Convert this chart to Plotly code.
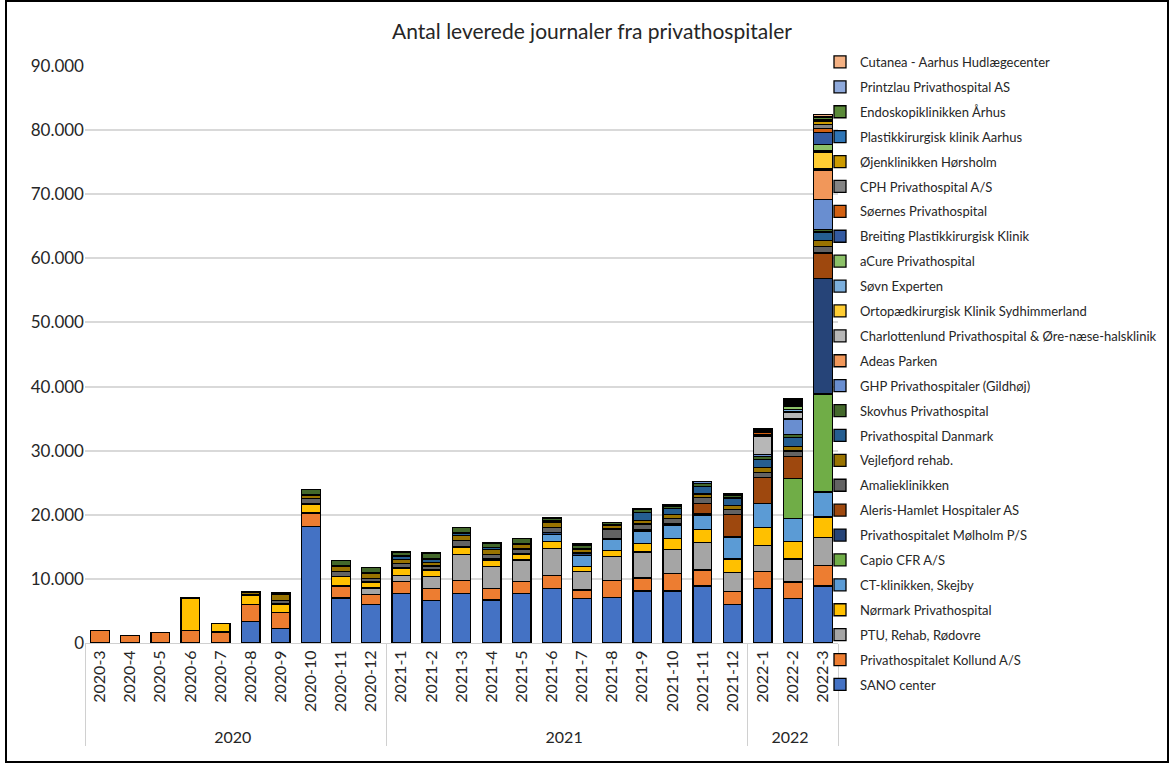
import plotly.graph_objects as go

years = ["2020"] * 10 + ["2021"] * 12 + ["2022"] * 3
months = ["2020-3", "2020-4", "2020-5", "2020-6", "2020-7", "2020-8", "2020-9", "2020-10", "2020-11", "2020-12",
          "2021-1", "2021-2", "2021-3", "2021-4", "2021-5", "2021-6", "2021-7", "2021-8", "2021-9", "2021-10",
          "2021-11", "2021-12", "2022-1", "2022-2", "2022-3"]

#                2020: 3    4     5     6     7     8     9     10     11    12   | 2021: 1   2     3     4     5     6     7     8     9     10    11    12  | 2022: 1  2     3
sano          = [0,    0,    0,    0,    0,    3300, 2300, 18200, 7000, 6000, 7700, 6600, 7700, 6700, 7700, 8500, 6900, 7150, 8100, 8100, 8900, 6000, 8500, 6950, 8900]
kollund       = [2000, 1200, 1600, 2000, 1700, 2700, 2500, 2100,  1900, 1550, 1900, 1900, 2100, 1800, 1850, 2050, 1350, 2550, 2050, 2750, 2500, 2050, 2700, 2550, 3150]
ptu           = [0,    0,    0,    0,    0,    0,    0,    0,     100,  1050, 950,  1850, 4000, 3400, 3400, 4150, 2850, 3750, 4050, 3750, 4250, 2900, 4000, 3600, 4400]
normark       = [0,    0,    0,    5000, 1300, 1400, 1300, 1400,  1400, 800,  1050, 950,  1050, 1050, 850,  1100, 800,  1000, 1350, 1650, 2000, 2150, 2800, 2700, 3200]
ct_skejby     = [0,    0,    0,    0,    0,    0,    0,    0,     0,    0,    0,    0,    0,    0,    0,    1150, 1700, 1750, 1850, 2100, 2300, 3350, 3800, 3600, 3900]
capio         = [0,    0,    0,    0,    0,    0,    0,    0,     0,    0,    0,    0,    0,    0,    0,    0,    0,    0,    0,    0,    0,    0,    0,    6300, 15300]
molholm       = [0,    0,    0,    0,    0,    0,    0,    0,     0,    200,  150,  150,  200,  150,  150,  250,  450,  150,  150,  150,  150,  150,  0,    0,    18000]
aleris        = [0,    0,    0,    0,    0,    0,    0,    0,     0,    0,    0,    0,    0,    0,    0,    0,    0,    0,    150,  150,  1700, 3450, 4000, 3350, 4000]
amalie        = [0,    0,    0,    0,    0,    100,  550,  800,   800,  500,  650,  550,  950,  750,  700,  850,  0,    1450, 850,  800,  850,  750,  800,  900,  1050]
vejlefjord    = [0,    0,    0,    0,    0,    400,  1000, 600,   700,  750,  650,  550,  750,  750,  700,  750,  500,  500,  550,  550,  600,  600,  750,  750,  850]
ph_danmark    = [0,    0,    0,    0,    0,    0,    0,    0,     200,  200,  500,  550,  400,  350,  150,  250,  200,  150,  1250, 1000, 1150, 1200, 1300, 1400, 1350]
skovhus       = [0,    0,    0,    0,    0,    100,  250,  800,   800,  750,  650,  950,  850,  650,  750,  450,  500,  400,  450,  350,  500,  450,  400,  450,  450]
ghp           = [0,    0,    0,    0,    0,    0,    0,    0,     0,    0,    0,    0,    0,    0,    0,    0,    200,  0,    200,  200,  250,  200,  400,  2400, 4600]
adeas         = [0,    0,    0,    0,    0,    0,    0,    0,     0,    0,    0,    0,    0,    0,    0,    0,    0,    0,    0,    0,    0,    0,    0,    0,    4650]
charlottenl   = [0,    0,    0,    0,    0,    0,    0,    0,     0,    0,    0,    0,    0,    0,    0,    0,    0,    0,    0,    0,    0,    0,    2750, 1100, 150]
ortopaed      = [0,    0,    0,    0,    0,    0,    0,    0,     0,    0,    0,    0,    0,    0,    0,    0,    0,    0,    0,    0,    0,    0,    150,  0,    2650]
sovn          = [0,    0,    0,    0,    0,    0,    0,    0,     0,    0,    0,    0,    0,    0,    0,    0,    0,    0,    0,    0,    0,    0,    100,  400,  250]
acure         = [0,    0,    0,    0,    0,    0,    0,    0,     0,    0,    0,    0,    0,    0,    0,    0,    0,    0,    0,    0,    0,    0,    0,    450,  950]
breiting      = [0,    0,    0,    0,    0,    0,    0,    0,     0,    0,    0,    0,    0,    0,    0,    0,    0,    0,    0,    0,    0,    0,    0,    150,  1850]
soernes       = [0,    0,    0,    0,    0,    0,    0,    0,     0,    0,    0,    0,    0,    0,    0,    0,    0,    0,    0,    0,    0,    0,    350,  250,  550]
cph           = [0,    0,    0,    0,    0,    0,    0,    0,     0,    0,    0,    0,    0,    0,    0,    0,    0,    0,    0,    0,    0,    0,    150,  150,  650]
ojenklinikken = [0,    0,    0,    0,    0,    0,    0,    0,     0,    0,    0,    0,    0,    0,    0,    0,    0,    0,    0,    0,    0,    0,    150,  150,  550]
plastik_aarh  = [0,    0,    0,    0,    0,    0,    0,    0,     0,    0,    0,    0,    0,    0,    0,    0,    0,    0,    0,    0,    0,    0,    0,    150,  300]
endoskopi     = [0,    0,    0,    0,    0,    0,    0,    0,     0,    0,    0,    0,    0,    0,    0,    0,    0,    0,    0,    0,    0,    0,    150,  150,  250]
printzlau     = [0,    0,    0,    0,    0,    0,    0,    0,     0,    0,    0,    0,    0,    0,    0,    0,    0,    0,    0,    0,    0,    0,    0,    100,  200]
cutanea       = [0,    0,    0,    0,    0,    0,    0,    0,     0,    0,    0,    0,    0,    0,    0,    0,    0,    0,    0,    0,    0,    0,    200,  150,  250]

series_names = [
    "SANO center", "Privathospitalet Kollund A/S", "PTU, Rehab, Rødovre", "Nørmark Privathospital",
    "CT-klinikken, Skejby", "Capio CFR A/S", "Privathospitalet Mølholm P/S", "Aleris-Hamlet Hospitaler AS",
    "Amalieklinikken", "Vejlefjord rehab.", "Privathospital Danmark", "Skovhus Privathospital",
    "GHP Privathospitaler (Gildhøj)", "Adeas Parken", "Charlottenlund Privathospital & Øre-næse-halsklinik",
    "Ortopædkirurgisk Klinik Sydhimmerland", "Søvn Experten", "aCure Privathospital",
    "Breiting Plastikkirurgisk Klinik", "Søernes Privathospital", "CPH Privathospital A/S",
    "Øjenklinikken Hørsholm", "Plastikkirurgisk klinik Aarhus", "Endoskopiklinikken Århus",
    "Printzlau Privathospital AS", "Cutanea - Aarhus Hudlægecenter",
]
series_values = [sano, kollund, ptu, normark, ct_skejby, capio, molholm, aleris, amalie, vejlefjord,
                 ph_danmark, skovhus, ghp, adeas, charlottenl, ortopaed, sovn, acure, breiting, soernes,
                 cph, ojenklinikken, plastik_aarh, endoskopi, printzlau, cutanea]
series_colors = ["#4472C4", "#ED7D31", "#A5A5A5", "#FFC000", "#5B9BD5", "#70AD47", "#264478", "#9E480E",
                 "#636363", "#997300", "#255E91", "#43682B", "#698ED0", "#F1975A", "#B7B7B7", "#FFCD33",
                 "#7CAFDD", "#8CC168", "#335AA1", "#D26012", "#848484", "#CC9A00", "#2E75B6", "#5A8A39",
                 "#8FAADC", "#F4B183"]

FONT = "Lato"

fig = go.Figure()
for i, (name, vals, col) in enumerate(zip(series_names, series_values, series_colors)):
    fig.add_trace(go.Bar(
        x=[years, months], y=vals, name=name, legendgroup=name, legendrank=1000 - i,
        marker=dict(color=col, line=dict(color="#000000", width=1.3)),
    ))

L, R, T, B = 85, 332, 66, 120
W, H = 1170, 763
pw, ph = W - L - R, H - T - B

def px_x(p):
    return (p - L) / pw

def px_y(p):
    return (H - B - p) / ph

fig.update_layout(
    width=W, height=H,
    margin=dict(l=L, r=R, t=T, b=B, autoexpand=False),
    barmode="stack", bargap=0.38,
    plot_bgcolor="white", paper_bgcolor="white",
    separators=",.",
    font=dict(family=FONT, color="#404040"),
    title=dict(text="Antal leverede journaler fra privathospitaler", x=592 / W, xref="container",
               xanchor="center", y=1 - 32 / H, yref="container", yanchor="middle",
               font=dict(size=21, color="#262626", family=FONT)),
    legend=dict(traceorder="grouped", tracegroupgap=5.0, x=px_x(820), xanchor="left",
                y=px_y(47), yanchor="top", font=dict(size=13, color="#262626", family=FONT),
                itemwidth=30, bgcolor="rgba(0,0,0,0)", maxheight=720),
    showlegend=True,
    xaxis=dict(type="multicategory", tickangle=-90, tickfont=dict(size=16, color="#262626"),
               showdividers=True, dividercolor="#d0d0d0", dividerwidth=1,
               showline=True, linecolor="#d0d0d0", linewidth=1, ticks=""),
    yaxis=dict(range=[0, 90000], dtick=10000, tickformat=",d", showgrid=True, gridcolor="#d9d9d9",
               gridwidth=2, zeroline=False, tickfont=dict(size=17, color="#262626"), ticks=""),
    shapes=[dict(type="rect", xref="paper", yref="paper", x0=px_x(6), x1=px_x(1168), y0=px_y(762), y1=px_y(1),
                 line=dict(color="#000000", width=2), fillcolor="rgba(0,0,0,0)", layer="above")],
)

fig.write_html("out.html", config={"displayModeBar": False},
               post_script="document.body.style.margin='0';")
